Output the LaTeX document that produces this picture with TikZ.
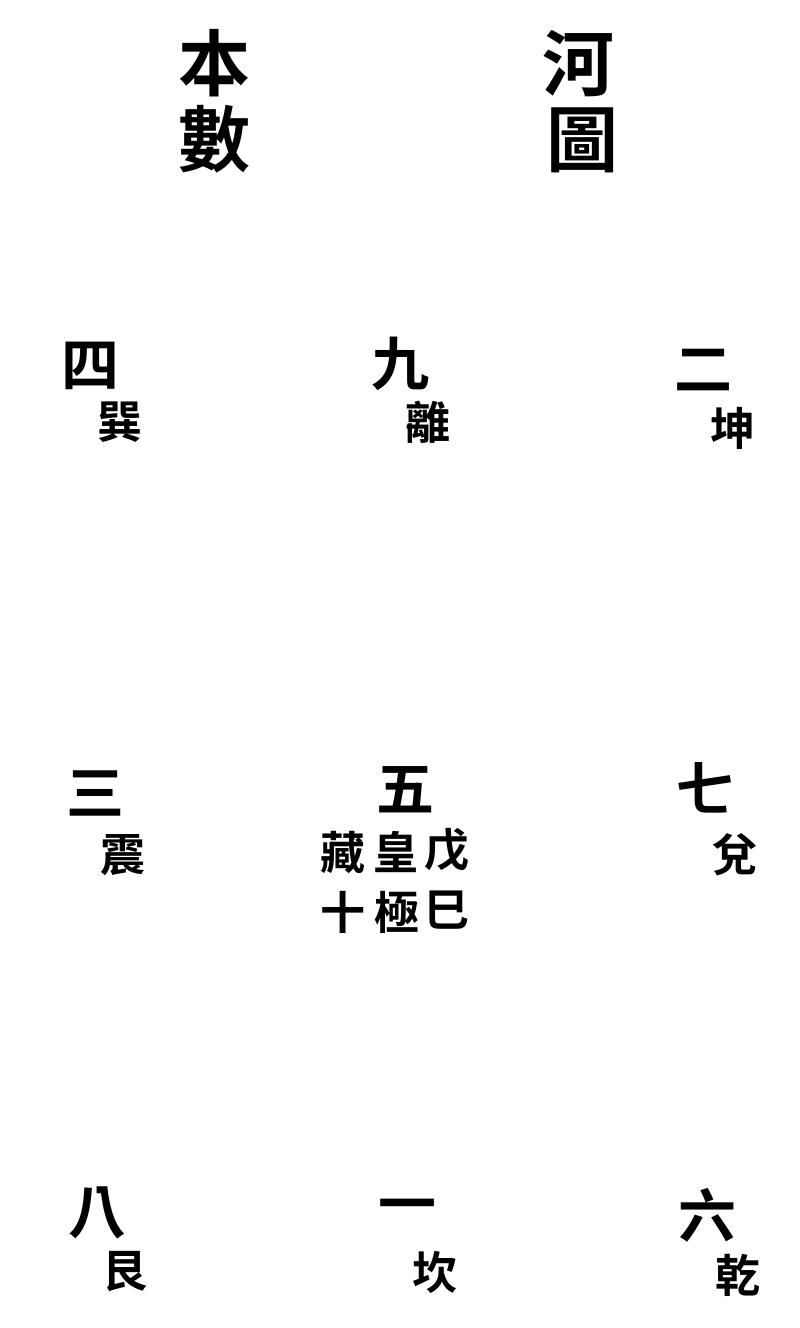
\documentclass[tikz,border=0pt]{standalone}
\usepackage{fontspec}
\newfontfamily\cjk{Noto Sans CJK TC}[BoldFont={Noto Sans CJK TC Bold}]
\begin{document}
\begin{tikzpicture}[x=1pt,y=-1pt,
  title/.style={font=\cjk\bfseries\fontsize{72}{72}\selectfont, inner sep=0pt},
  num/.style={font=\cjk\bfseries\fontsize{58}{58}\selectfont, inner sep=0pt},
  gua/.style={font=\cjk\bfseries\fontsize{45}{45}\selectfont, inner sep=0pt}]
\useasboundingbox (0,0) rectangle (800,1328);
% title
\node[title] (ben) at (214,63) {本};
\node[title] (shu) at (214,139) {數};
\node[title] (he) at (578,64) {河};
\node[title] (tu) at (582,140) {圖};
% top row
\node[num] (n4) at (90,366) {四};
\node[gua] (xun) at (120,422) {巽};
\node[num] (n9) at (400,364) {九};
\node[gua] (li) at (428,422) {離};
\node[num] (n2) at (703,370) {二};
\node[gua] (kun) at (733,428) {坤};
% middle row
\node[num] (n3) at (95,793) {三};
\node[gua] (zhen) at (123,855) {震};
\node[num] (n5) at (405,790) {五};
\node[gua] (cang) at (343,852) {藏};
\node[gua] (huang) at (396,852) {皇};
\node[gua] (wu) at (447,850) {戊};
\node[gua] (shi) at (343,912) {十};
\node[gua] (ji) at (397,912) {極};
\node[gua] (si) at (447,910) {巳};
\node[num] (n7) at (705,788) {七};
\node[gua] (dui) at (735,855) {兌};
% bottom row
\node[num] (n8) at (97,1213) {八};
\node[gua] (gen) at (125,1272) {艮};
\node[num] (n1) at (407,1212) {一};
\node[gua] (kan) at (435,1272) {坎};
\node[num] (n6) at (707,1215) {六};
\node[gua] (qian) at (738,1275) {乾};
\end{tikzpicture}
\end{document}
